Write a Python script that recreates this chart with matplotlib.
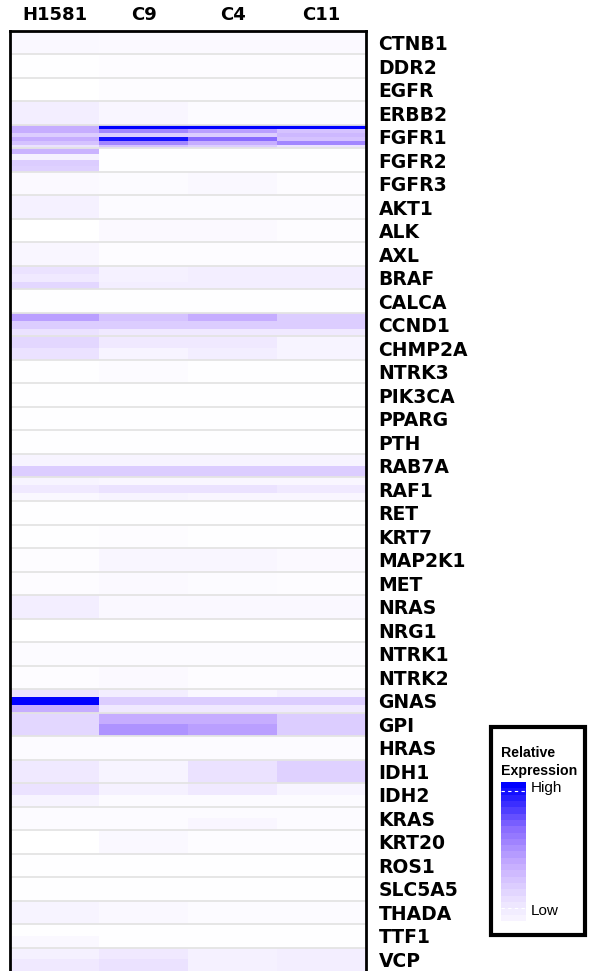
import numpy as np
import matplotlib
matplotlib.use("Agg")
import matplotlib.pyplot as plt
from matplotlib.colors import LinearSegmentedColormap
from matplotlib.patches import Rectangle

samples = ["H1581", "C9", "C4", "C11"]
genes = ["CTNB1", "DDR2", "EGFR", "ERBB2", "FGFR1", "FGFR2", "FGFR3", "AKT1",
         "ALK", "AXL", "BRAF", "CALCA", "CCND1", "CHMP2A", "NTRK3", "PIK3CA",
         "PPARG", "PTH", "RAB7A", "RAF1", "RET", "KRT7", "MAP2K1", "MET",
         "NRAS", "NRG1", "NTRK1", "NTRK2", "GNAS", "GPI", "HRAS", "IDH1",
         "IDH2", "KRAS", "KRT20", "ROS1", "SLC5A5", "THADA", "TTF1", "VCP"]

# relative expression (0 = low, 1 = high), one list of probe rows per gene
h1581 = [[0.05], [0.01], [0.0], [0.12],
         [0.45, 0.45, 0.3, 0.45, 0.35, 0.2],
         [0.42, 0.1, 0.3, 0.28],
         [0.04], [0.1], [0.0], [0.06],
         [0.2, 0.15, 0.25], [0.01],
         [0.5, 0.3, 0.2], [0.25, 0.2],
         [0.01], [0.01], [0.01], [0.01],
         [0.08, 0.3], [0.08, 0.15, 0.05],
         [0.01], [0.01], [0.02], [0.02],
         [0.12], [0.0], [0.03], [0.02],
         [0.2, 1.0, 0.45], [0.25, 0.25],
         [0.03], [0.15], [0.2, 0.08],
         [0.03, 0.03], [0.0], [0.01], [0.01],
         [0.08], [0.01, 0.05], [0.1, 0.15]]
c9 = [[0.04], [0.02], [0.02], [0.06],
      [1.0, 0.6, 0.3, 0.95, 0.6, 0.35],
      [0.01, 0.01, 0.01, 0.01],
      [0.03], [0.03], [0.04], [0.02],
      [0.1, 0.1, 0.12], [0.01],
      [0.35, 0.3, 0.15], [0.15, 0.08],
      [0.03], [0.01], [0.01], [0.01],
      [0.08, 0.3], [0.06, 0.2, 0.08],
      [0.01], [0.02], [0.06], [0.04],
      [0.05], [0.0], [0.03], [0.04],
      [0.12, 0.3, 0.15], [0.45, 0.55],
      [0.03], [0.08], [0.1, 0.03],
      [0.03, 0.03], [0.05], [0.01], [0.01],
      [0.05], [0.01, 0.01], [0.15, 0.2]]
c4 = [[0.04], [0.02], [0.02], [0.03],
      [1.0, 0.5, 0.3, 0.7, 0.45, 0.3],
      [0.01, 0.01, 0.01, 0.01],
      [0.05], [0.03], [0.04], [0.02],
      [0.12, 0.12, 0.12], [0.01],
      [0.45, 0.3, 0.15], [0.15, 0.12],
      [0.01], [0.01], [0.01], [0.01],
      [0.08, 0.3], [0.06, 0.2, 0.06],
      [0.01], [0.01], [0.06], [0.03],
      [0.05], [0.0], [0.03], [0.02],
      [0.05, 0.3, 0.15], [0.45, 0.5],
      [0.03], [0.2], [0.15, 0.03],
      [0.03, 0.06], [0.02], [0.01], [0.01],
      [0.03], [0.01, 0.01], [0.1, 0.1]]
c11 = [[0.04], [0.02], [0.02], [0.03],
       [1.0, 0.35, 0.4, 0.35, 0.6, 0.2],
       [0.01, 0.01, 0.01, 0.01],
       [0.02], [0.03], [0.02], [0.02],
       [0.12, 0.12, 0.12], [0.01],
       [0.3, 0.3, 0.15], [0.08, 0.08],
       [0.01], [0.01], [0.01], [0.01],
       [0.08, 0.3], [0.06, 0.15, 0.06],
       [0.01], [0.01], [0.04], [0.02],
       [0.05], [0.0], [0.03], [0.02],
       [0.1, 0.3, 0.15], [0.3, 0.3],
       [0.03], [0.28], [0.08, 0.03],
       [0.03, 0.03], [0.02], [0.01], [0.01],
       [0.03], [0.01, 0.01], [0.12, 0.12]]

cmap = LinearSegmentedColormap.from_list(
    "rel_expr", [(0, "#ffffff"), (0.2, "#ebe2ff"), (0.45, "#c6adff"),
                 (0.7, "#8a6cff"), (1, "#0000ff")])

W, H = 594, 971
fig = plt.figure(figsize=(W / 100, H / 100), dpi=100)

def fbox(x0, y0, x1, y1):
    # pixel box -> figure fraction [left, bottom, width, height]
    return [x0 / W, 1 - y1 / H, (x1 - x0) / W, (y1 - y0) / H]

ax = fig.add_axes(fbox(10, 31, 366, 971))
cols = np.arange(len(samples) + 1)
for i in range(len(genes)):
    vals = np.array([h1581[i], c9[i], c4[i], c11[i]]).T
    n = vals.shape[0]
    edges = i + np.linspace(0, 1, n + 1)
    ax.pcolormesh(cols, edges, vals, cmap=cmap, vmin=0, vmax=1,
                  shading="flat", antialiased=False)
for i in range(1, len(genes)):
    ax.axhline(i, color="#e4e4e4", lw=1.3)

ax.set_xlim(0, len(samples))
ax.set_ylim(len(genes), 0)
ax.set_xticks(np.arange(len(samples)) + 0.5)
ax.set_xticklabels(samples, fontsize=13, fontweight="bold", family="DejaVu Sans")
ax.xaxis.tick_top()
ax.set_yticks(np.arange(len(genes)) + 0.5)
ax.set_yticklabels(genes, fontsize=13.5, fontweight="bold", family="DejaVu Sans")
ax.yaxis.tick_right()
ax.tick_params(axis="x", length=0, pad=5)
ax.tick_params(axis="y", length=0, pad=9)
for side in ["left", "right", "top"]:
    ax.spines[side].set_linewidth(2)
ax.spines["bottom"].set_visible(False)

# legend box
fig.patches.append(Rectangle((491 / W, 1 - 935 / H), 94 / W, 208 / H,
                             transform=fig.transFigure, fill=False,
                             edgecolor="black", lw=3))
fig.text(501 / W, 1 - 753 / H, "Relative", fontsize=10.2, fontweight="bold",
         family="Liberation Sans", va="center")
fig.text(501 / W, 1 - 771 / H, "Expression", fontsize=10.2, fontweight="bold",
         family="Liberation Sans", va="center")
lax = fig.add_axes(fbox(501, 782, 526, 921))
levels = np.linspace(1, 0.08, 22)[:, None]
lax.imshow(levels, cmap=cmap, vmin=0, vmax=1, aspect="auto",
           interpolation="nearest")
lax.plot([-0.5, 0.5], [1, 1], color="white", lw=0.8, ls=(0, (3, 3)))
lax.plot([-0.5, 0.5], [19.5, 19.5], color="white", lw=0.8, ls=(0, (3, 3)))
lax.set_xlim(-0.5, 0.5)
lax.axis("off")
fig.text(531 / W, 1 - 788 / H, "High", fontsize=11, family="Liberation Sans",
         va="center")
fig.text(531 / W, 1 - 911 / H, "Low", fontsize=11, family="Liberation Sans",
         va="center")

fig.savefig("out.png", dpi=100)
